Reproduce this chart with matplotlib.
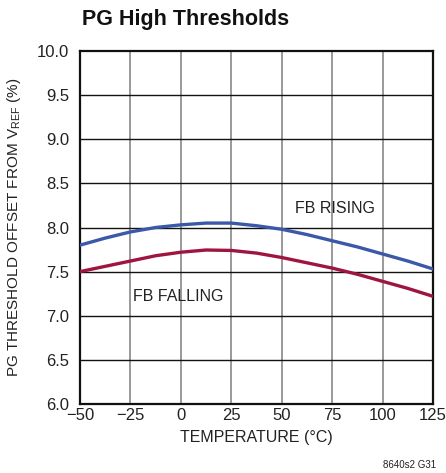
import matplotlib
matplotlib.use("Agg")
import matplotlib.pyplot as plt

temps = [-50, -37.5, -25, -12.5, 0, 12.5, 25, 37.5, 50, 62.5, 75, 87.5, 100, 112.5, 125]
fb_rising = [7.80, 7.88, 7.95, 8.00, 8.03, 8.05, 8.05, 8.02, 7.98, 7.92, 7.85, 7.78, 7.70, 7.62, 7.53]
fb_falling = [7.50, 7.56, 7.62, 7.68, 7.72, 7.745, 7.74, 7.71, 7.66, 7.60, 7.54, 7.47, 7.39, 7.31, 7.22]
xticks = [-50, -25, 0, 25, 50, 75, 100, 125]
xticklabels = ["\u221250", "\u221225", "0", "25", "50", "75", "100", "125"]
yticks = [6.0, 6.5, 7.0, 7.5, 8.0, 8.5, 9.0, 9.5, 10.0]

plt.rcParams['font.family'] = ['Liberation Sans', 'DejaVu Sans']

fig = plt.figure(figsize=(4.46, 4.73), dpi=100)
ax = fig.add_axes([80/446, 1-404/473, 353/446, 353/473])

ax.set_xlim(-50, 125)
ax.set_ylim(6.0, 10.0)
ax.set_xticks(xticks)
ax.set_xticklabels(xticklabels)
ax.set_yticks(yticks)
ax.set_yticklabels([f"{v:.1f}" for v in yticks])
ax.tick_params(axis='both', length=0, labelsize=12, colors='#222222')
ax.tick_params(axis='x', pad=3)
ax.tick_params(axis='y', pad=8)

for x in xticks[1:-1]:
    ax.axvline(x, color='#888888', lw=1.2, zorder=1)
for y in yticks[1:-1]:
    ax.axhline(y, color='#111111', lw=1.0, zorder=1)
for s in ax.spines.values():
    s.set_linewidth(1.6)
    s.set_color('#111111')

ax.plot(temps, fb_rising, color='#3a59a8', lw=2.4, zorder=3)
ax.plot(temps, fb_falling, color='#9e1640', lw=2.4, zorder=3)

ax.text(76.5, 8.22, "FB RISING", ha='center', va='center', fontsize=11.5, color='#222222')
ax.text(-1.5, 7.22, "FB FALLING", ha='center', va='center', fontsize=11.5, color='#222222')

ax.set_xlabel("TEMPERATURE (\u00b0C)", fontsize=11.5, labelpad=5, color='#222222')
ax.set_ylabel("PG THRESHOLD OFFSET FROM V$_{\\mathregular{REF}}$ (%)", fontsize=11, labelpad=10, color='#222222')

fig.text(82/446, 1-20/473, "PG High Thresholds", fontsize=15.5, fontweight='bold', ha='left', va='center', color='#111111')
fig.text(436/446, 1-465/473, "8640s2 G31", fontsize=7, ha='right', va='center', color='#222222')

fig.savefig("out.png", dpi=100)
